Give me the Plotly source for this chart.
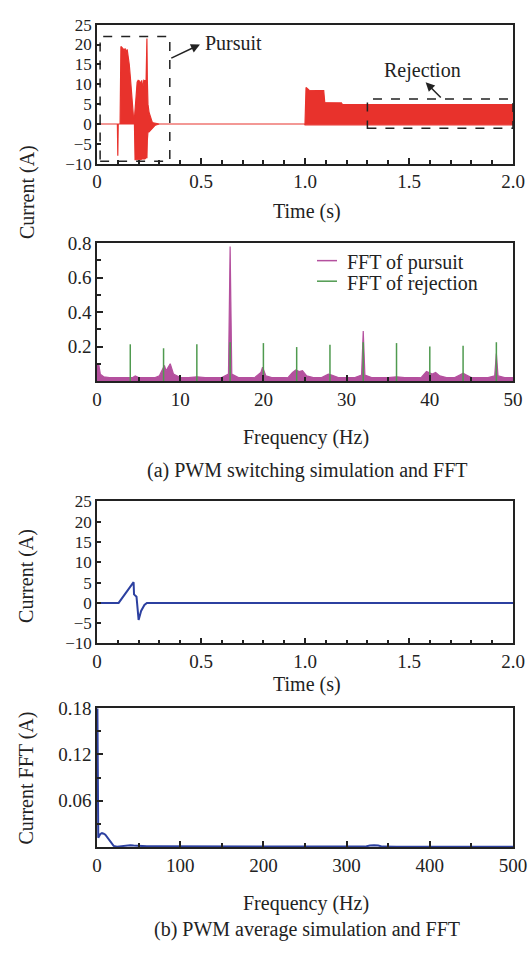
import plotly.graph_objects as go

# ---------------- data ----------------
# (a) PWM switching current: envelope of the switching waveform (time s, upper A, lower A)
t_sig = [0.000, 0.098, 0.100, 0.102, 0.111, 0.113, 0.115, 0.125, 0.130, 0.135,
         0.140, 0.145, 0.150, 0.155, 0.160, 0.165, 0.170, 0.175, 0.180, 0.183,
         0.188, 0.193, 0.198, 0.205, 0.210, 0.215, 0.220, 0.225, 0.230, 0.236,
         0.238, 0.240, 0.242, 0.245, 0.250, 0.255, 0.260, 0.265, 0.270, 0.280,
         0.300, 0.998, 1.000, 1.005, 1.020, 1.090, 1.095, 1.175, 1.180, 2.000]
i_upper = [0, 0, 0, 0, 0, 10, 19.5, 19, 18.5, 19,
           18, 18.8, 17, 15, 12, 8, 4, 2, 1.5, 3,
           7, 10.5, 11, 10.8, 10, 11, 9, 11, 10.8, 11,
           21.5, 21.5, 11, 5, 3, 2, 1, 0.5, 0.3, 0.2,
           0, 0, 0, 9.2, 8.5, 8.4, 5.4, 5.3, 4.9, 4.9]
i_lower = [0, 0, -8, 0, 0, 0, 0, 0, 0, 0,
           0, 0, 0, 0, 0, 0, 0, 0, 0, -9,
           -9, -9, -9, -9, -9, -8.8, -8.8, -8.8, -8.8, -8.5,
           -8.5, -8.5, -4, -2, -2, -1.8, -1.5, -1.2, -0.8, -0.3,
           0, 0, -0.2, -0.2, -0.2, -0.2, -0.2, -0.2, -0.2, -0.2]

# FFT of pursuit (Hz, A)
f_pur = [0.0, 0.2, 0.4, 0.8, 1.5, 2.5, 3.5, 4.3, 4.6, 5.0,
         6.0, 7.0, 7.5, 7.8, 8.1, 8.3, 8.6, 8.8, 9.2, 10.0,
         11.0, 12.0, 13.0, 14.0, 15.0, 15.8, 16.0, 16.2, 17.0, 18.0,
         19.0, 19.7, 19.9, 20.3, 21.0, 22.0, 23.0, 23.5, 23.9, 24.3,
         24.7, 25.2, 26.0, 27.0, 27.8, 28.2, 29.0, 30.0, 31.0, 31.8,
         32.0, 32.2, 33.0, 34.0, 35.0, 36.0, 37.0, 38.0, 39.0, 39.6,
         39.9, 40.3, 40.7, 41.2, 42.0, 43.0, 43.6, 44.0, 44.4, 45.0,
         46.0, 47.0, 47.8, 48.0, 48.2, 49.0, 50.0]
a_pur = [0.10, 0.10, 0.04, 0.025, 0.02, 0.02, 0.022, 0.02, 0.03, 0.02,
         0.02, 0.02, 0.03, 0.065, 0.09, 0.06, 0.08, 0.10, 0.04, 0.02,
         0.02, 0.025, 0.02, 0.02, 0.02, 0.04, 0.78, 0.04, 0.02, 0.02,
         0.022, 0.05, 0.08, 0.03, 0.02, 0.02, 0.022, 0.05, 0.065, 0.055,
         0.06, 0.03, 0.02, 0.02, 0.04, 0.035, 0.02, 0.02, 0.02, 0.035,
         0.29, 0.035, 0.02, 0.02, 0.02, 0.025, 0.02, 0.02, 0.022, 0.055,
         0.05, 0.04, 0.05, 0.03, 0.02, 0.02, 0.035, 0.045, 0.035, 0.02,
         0.02, 0.02, 0.03, 0.16, 0.03, 0.02, 0.02]

# FFT of rejection (Hz, A)
f_rej = [4, 8, 12, 16, 20, 24, 28, 32, 36, 40, 44, 48]
a_rej = [0.213, 0.19, 0.213, 0.225, 0.22, 0.197, 0.21, 0.225, 0.22, 0.20, 0.205, 0.225]

# (b) PWM average current (s, A)
t_avg = [0, 0.104, 0.176, 0.178, 0.190, 0.200, 0.212, 0.228, 0.240, 2.0]
i_avg = [0, 0, 5.1, 2.1, 1.5, -4.2, -2.0, -0.5, 0, 0]

# (b) FFT of average current (Hz, A)
f_avg = [0, 0.5, 1.5, 2.5, 4, 6, 8, 10, 12, 14,
         16, 18, 20, 24, 28, 32, 36, 40, 44, 48,
         52, 60, 70, 80, 85, 90, 100, 104, 108, 113,
         118, 150, 200, 250, 300, 322, 328, 333, 338, 343,
         360, 400, 450, 500]
a_avg = [0.178, 0.178, 0.012, 0.014, 0.017, 0.018, 0.0175, 0.016, 0.013, 0.009,
         0.006, 0.003, 0.0015, 0.0005, 0.001, 0.002, 0.0025, 0.0025, 0.002, 0.0015,
         0.0012, 0.001, 0.001, 0.001, 0.0008, 0.0004, 0.0004, 0.001, 0.0012, 0.001,
         0.0004, 0.0004, 0.0004, 0.0004, 0.0004, 0.0006, 0.002, 0.0025, 0.002, 0.0006,
         0.0004, 0.0004, 0.0004, 0.0004]

time_ticks = [0, 0.5, 1.0, 1.5, 2.0]
time_labels = ["0", "0.5", "1.0", "1.5", "2.0"]
cur_ticks = [-10, -5, 0, 5, 10, 15, 20, 25]
fft_a_ticks = [0, 10, 20, 30, 40, 50]
fft_a_yticks = [0.2, 0.4, 0.6, 0.8]
fft_a_ylabels = ["0.2", "0.4", "0.6", "0.8"]
fft_b_ticks = [0, 100, 200, 300, 400, 500]
fft_b_yticks = [0.06, 0.12, 0.18]
fft_b_ylabels = ["0.06", "0.12", "0.18"]

# ---------------- style ----------------
FONT = "Liberation Serif"
INK = "#222222"
RED = "#e8322c"
PINK = "#b4509e"
GREEN = "#4f9a4f"
BLUE = "#2c40a0"
W, H = 531, 954
L, R = 97, 18


def py(p):
    return 1 - p / H


def px(p):
    return (p - L) / (W - L - R)


fig = go.Figure()

# (a) switching current as filled envelope
fig.add_trace(go.Scatter(
    x=t_sig + t_sig[::-1], y=i_upper + i_lower[::-1],
    fill="toself", fillcolor=RED, mode="lines",
    line=dict(color=RED, width=1.2), xaxis="x", yaxis="y", showlegend=False))

# (a) FFT
fig.add_trace(go.Scatter(
    x=f_pur, y=a_pur, mode="lines", fill="tozeroy", fillcolor=PINK,
    line=dict(color=PINK, width=1.2), xaxis="x2", yaxis="y2", showlegend=False))
xs, ys = [], []
for f, a in zip(f_rej, a_rej):
    xs += [f, f, None]
    ys += [0, a, None]
fig.add_trace(go.Scatter(
    x=xs, y=ys, mode="lines", line=dict(color=GREEN, width=1.5),
    xaxis="x2", yaxis="y2", showlegend=False))

# (b) average current
fig.add_trace(go.Scatter(
    x=t_avg, y=i_avg, mode="lines", line=dict(color=BLUE, width=2),
    xaxis="x3", yaxis="y3", showlegend=False))
fig.add_trace(go.Scatter(
    x=f_avg, y=a_avg, mode="lines", line=dict(color=BLUE, width=2),
    xaxis="x4", yaxis="y4", showlegend=False))

tickfont = dict(family=FONT, size=19, color=INK)
tickfont_small = dict(family=FONT, size=17, color=INK)


def axis(**kw):
    base = dict(showline=True, linecolor=INK, linewidth=1.5, mirror=True,
                ticks="inside", tickcolor=INK, tickwidth=1.5, ticklen=6,
                showgrid=False, zeroline=False, tickfont=tickfont,
                fixedrange=True)
    base.update(kw)
    return base


def minor(d, t0=0):
    return dict(tickmode="linear", tick0=t0, dtick=d, ticks="inside",
                ticklen=4, tickwidth=1.5, tickcolor=INK, showgrid=False)


fig.update_layout(
    width=W, height=H,
    margin=dict(l=L, r=R, t=0, b=0),
    paper_bgcolor="white", plot_bgcolor="white",
    font=dict(family=FONT, size=20, color=INK),
    xaxis=axis(domain=[0, 1], anchor="y", range=[0, 2],
               tickmode="array", tickvals=time_ticks, ticktext=time_labels,
               minor=minor(0.1)),
    yaxis=axis(domain=[py(157), py(15)], anchor="x", range=[-10, 25],
               tickmode="array", tickvals=cur_ticks, ticklen=4,
               tickfont=tickfont_small),
    xaxis2=axis(domain=[0, 1], anchor="y2", range=[0, 50],
                tickmode="array", tickvals=fft_a_ticks, minor=minor(5)),
    yaxis2=axis(domain=[py(379), py(238)], anchor="x2", range=[0, 0.8],
                tickmode="array", tickvals=fft_a_yticks, ticktext=fft_a_ylabels,
                minor=minor(0.1)),
    xaxis3=axis(domain=[0, 1], anchor="y3", range=[0, 2],
                tickmode="array", tickvals=time_ticks, ticktext=time_labels,
                minor=minor(0.1)),
    yaxis3=axis(domain=[py(647), py(502)], anchor="x3", range=[-10, 25],
                tickmode="array", tickvals=cur_ticks, ticklen=4,
                tickfont=tickfont_small),
    xaxis4=axis(domain=[0, 1], anchor="y4", range=[0, 500],
                tickmode="array", tickvals=fft_b_ticks, minor=minor(50)),
    yaxis4=axis(domain=[py(855), py(713)], anchor="x4", range=[0, 0.18],
                tickmode="array", tickvals=fft_b_yticks, ticktext=fft_b_ylabels,
                minor=minor(0.03)),
)

# dashed boxes in the switching plot
dash = dict(color=INK, width=1.5, dash="dash")
fig.add_shape(type="rect", xref="x", yref="y", x0=0.015, x1=0.35, y0=-9.4, y1=22,
              line=dash)
fig.add_shape(type="rect", xref="x", yref="y", x0=1.30, x1=2.0, y0=-1.1, y1=6.3,
              line=dash)

# legend (manual)
for yy, col in [(256, PINK), (277, GREEN)]:
    fig.add_shape(type="line", xref="paper", yref="paper",
                  x0=px(317), x1=px(337), y0=py(yy), y1=py(yy),
                  line=dict(color=col, width=1.5))

ann = []


def text(x, y, s, size=20, angle=0, xanchor="center", xref="paper", yref="paper"):
    ann.append(dict(x=x, y=y, xref=xref, yref=yref, text=s, showarrow=False,
                    textangle=angle, xanchor=xanchor, yanchor="middle",
                    font=dict(family=FONT, size=size, color=INK)))


text(px(345), py(258), "FFT of pursuit", xanchor="left")
text(px(345), py(279), "FFT of rejection", xanchor="left")

# axis titles and captions
text(px(27), py(186), "Current (A)", angle=-90)
text(px(307), py(206), "Time (s)")
text(px(306), py(437), "Frequency (Hz)")
text(px(307), py(470), "(a) PWM switching simulation and FFT")
text(px(27), py(578), "Current (A)", angle=-90)
text(px(307), py(689), "Time (s)")
text(px(27), py(785), "Current FFT (A)", angle=-90)
text(px(306), py(913), "Frequency (Hz)")
text(px(307), py(939), "(b) PWM average simulation and FFT")

# annotations with arrows
text(0.655, 20.3, "Pursuit", xref="x", yref="y")
text(1.567, 13.4, "Rejection", xref="x", yref="y")
for (hx, hy, tx, ty) in [(0.495, 20.0, 0.35, 16.4), (1.58, 10.5, 1.66, 6.3)]:
    ann.append(dict(x=hx, y=hy, ax=tx, ay=ty, xref="x", yref="y", axref="x", ayref="y",
                    text="", showarrow=True, arrowhead=2, arrowsize=1.2,
                    arrowwidth=1.5, arrowcolor=INK))

fig.update_layout(annotations=ann)

fig.write_html("out.html")
